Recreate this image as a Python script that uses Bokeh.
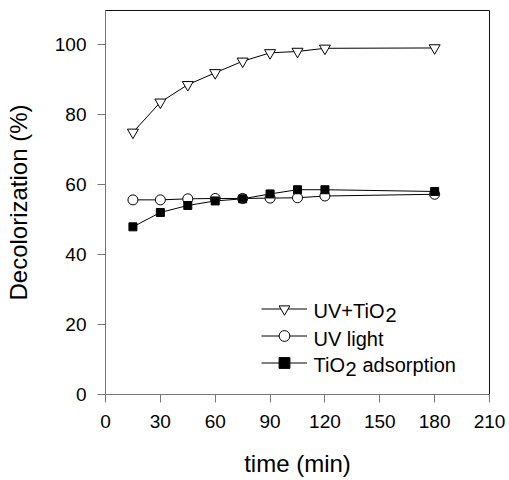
from bokeh.plotting import figure
from bokeh.models import Legend, LegendItem, Label, FixedTicker, Range1d
from bokeh.core.properties import value
from bokeh.embed import file_html
from bokeh.resources import INLINE

# ---- data ----
time_min = [15, 30, 45, 60, 75, 90, 105, 120, 180]
uv_tio2 = [74.9, 83.5, 88.5, 91.9, 95.2, 97.6, 98.0, 98.9, 99.0]
uv_light = [55.6, 55.6, 55.9, 56.0, 56.0, 56.1, 56.2, 56.7, 57.2]
tio2_ads = [47.9, 52.0, 54.0, 55.3, 55.9, 57.3, 58.5, 58.5, 58.0]
x_ticks = [0, 30, 60, 90, 120, 150, 180, 210]
y_ticks = [0, 20, 40, 60, 80, 100]

FONT = "Liberation Sans"

p = figure(width=509, height=480, output_backend="svg", toolbar_location=None,
           x_range=Range1d(0, 210), y_range=Range1d(0, 109.7),
           min_border_left=105, min_border_right=20, min_border_top=10, min_border_bottom=86)
p.background_fill_color = "white"
p.border_fill_color = "white"
p.outline_line_color = "#111111"
p.outline_line_width = 1
p.grid.visible = False

for ax in (p.xaxis[0], p.yaxis[0]):
    ax.axis_line_color = "#777777"
    ax.major_tick_line_color = "#777777"
    ax.minor_tick_line_color = None
    ax.major_tick_in = 0
    ax.major_tick_out = 8
    ax.major_label_text_font = FONT
    ax.major_label_text_font_size = "19px"
    ax.major_label_text_color = "black"
    ax.axis_label_text_font = FONT
    ax.axis_label_text_font_size = "24px"
    ax.axis_label_text_font_style = "normal"
    ax.axis_label_text_color = "black"

p.xaxis.major_label_standoff = 12
p.yaxis.major_label_standoff = 11
p.xaxis.ticker = FixedTicker(ticks=x_ticks)
p.yaxis.ticker = FixedTicker(ticks=y_ticks)
p.xaxis.axis_label = "time (min)"
p.yaxis.axis_label = "Decolorization (%)"
p.xaxis.axis_label_standoff = 19
p.yaxis.axis_label_standoff = 20

l1 = p.line(time_min, uv_tio2, line_color="black", line_width=1)
l2 = p.line(time_min, uv_light, line_color="black", line_width=1)
l3 = p.line(time_min, tio2_ads, line_color="black", line_width=1)
m1 = p.scatter(time_min, uv_tio2, marker="inverted_triangle", size=11,
               fill_color="white", line_color="black", line_width=1)
m2 = p.scatter(time_min, uv_light, marker="circle", size=10,
               fill_color="white", line_color="black", line_width=1)
m3 = p.scatter(time_min, tio2_ads, marker="square", size=8,
               fill_color="black", line_color="black", line_width=1)

legend = Legend(items=[
    LegendItem(label=value(""), renderers=[l1, m1]),
    LegendItem(label=value(""), renderers=[l2, m2]),
    LegendItem(label=value(""), renderers=[l3, m3]),
], location=(156, 18), glyph_width=46, glyph_height=27, spacing=0, padding=0,
    margin=0, label_standoff=0, border_line_alpha=0, background_fill_alpha=0,
    label_text_font_size="20px")
p.add_layout(legend, "center")

def lab(x, y, t):
    p.add_layout(Label(x=x, y=y, x_units="screen", y_units="screen", text=t,
                       text_font=FONT, text_font_size="20px", text_color="black",
                       text_baseline="alphabetic", text_align="left"))

lab(208, 84, "UV+TiO")
lab(280, 80, "2")
lab(208, 56, "UV light")
lab(208, 30, "TiO")
lab(240, 26, "2")
lab(257, 30, "adsorption")

open("out.html", "w").write(file_html(p, INLINE))
